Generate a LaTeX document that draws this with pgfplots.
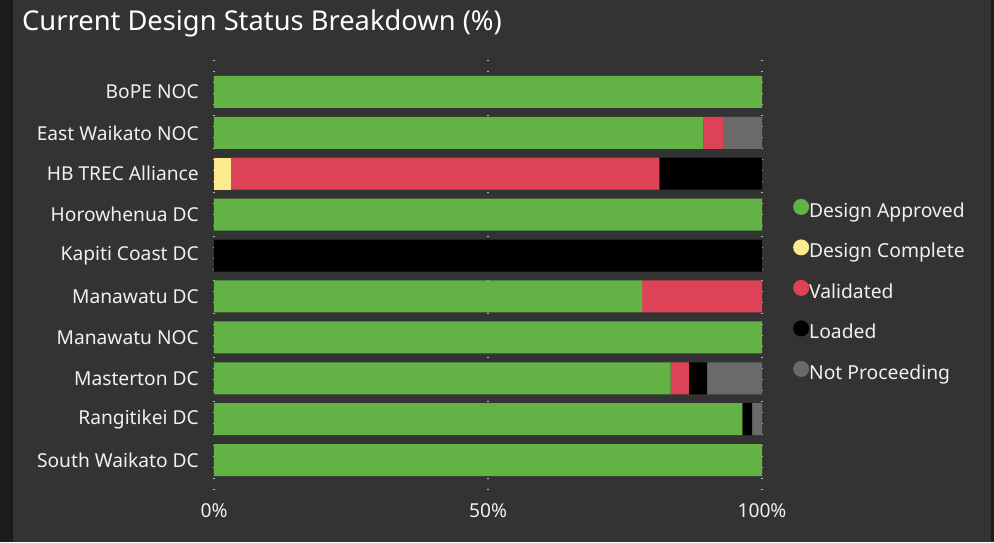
\documentclass[border=0pt]{standalone}
\usepackage{pgfplots}
\pgfplotsset{compat=1.18}
\usepackage{fontspec}
\setmainfont{Noto Sans}

\definecolor{bg}{HTML}{333333}
\definecolor{bgdark}{HTML}{1C1C1C}
\definecolor{approved}{HTML}{62B246}
\definecolor{complete}{HTML}{FCEB8E}
\definecolor{validated}{HTML}{DE4257}
\definecolor{loaded}{HTML}{000000}
\definecolor{notproc}{HTML}{6A6A6A}
\definecolor{txt}{HTML}{F0F0F0}

\begin{document}
\begin{tikzpicture}
\useasboundingbox (0,0) rectangle (994pt,542pt);
\fill[bgdark] (0,0) rectangle (994pt,542pt);
\fill[bg] (13pt,0) rectangle (991pt,542pt);
\node[anchor=base west, text=white, inner sep=0pt, font=\fontsize{27.3}{31}\selectfont]
  at (22pt,511pt) {Current Design Status Breakdown (\%)};

\begin{axis}[
    at={(214pt,50pt)}, anchor=south west,
    scale only axis, width=548pt, height=432pt,
    xbar stacked, bar width=32pt,
    xmin=0, xmax=100,
    ymin=-0.78, ymax=9.78, y dir=reverse,
    ytick={0,...,9},
    yticklabels={BoPE NOC, East Waikato NOC, HB TREC Alliance, Horowhenua DC,
        Kapiti Coast DC, Manawatu DC, Manawatu NOC, Masterton DC,
        Rangitikei DC, South Waikato DC},
    xtick={0,50,100},
    xticklabels={0\%,50\%,100\%},
    axis line style={draw=none},
    major tick length=0pt,
    xmajorgrids,
    grid style={color=gray!55!white, line width=1.2pt, dash pattern=on 1.3pt off 9.7pt},
    tick label style={text=txt, font=\fontsize{19.2}{22}\selectfont},
    yticklabel style={anchor=east, inner sep=0pt, xshift=-15pt},
    xticklabel style={anchor=north, inner sep=0pt, yshift=-11pt},
    legend image code/.code={\fill[#1] (0pt,6pt) circle (8pt);},
    legend style={at={(1.051,0.465)}, anchor=west, draw=none, fill=none,
        text=txt, font=\fontsize{19.3}{22}\selectfont, row sep=18pt,
        nodes={inner sep=0pt, text height=13pt, text depth=4pt},
        /tikz/every even column/.append style={column sep=3pt}},
    legend cell align=left,
]
% rows: BoPE, East Waikato, HB TREC, Horowhenua, Kapiti, Manawatu DC,
%       Manawatu NOC, Masterton, Rangitikei, South Waikato
\addplot[fill=approved, draw=none] coordinates {
    (100,0) (89.29,1) (0,2) (100,3) (0,4) (78.13,5) (100,6) (83.33,7) (96.4,8) (100,9)};
\addplot[fill=complete, draw=none] coordinates {
    (0,0) (0,1) (3.13,2) (0,3) (0,4) (0,5) (0,6) (0,7) (0,8) (0,9)};
\addplot[fill=validated, draw=none] coordinates {
    (0,0) (3.57,1) (78.12,2) (0,3) (0,4) (21.87,5) (0,6) (3.33,7) (0,8) (0,9)};
\addplot[fill=loaded, draw=none] coordinates {
    (0,0) (0,1) (18.75,2) (0,3) (100,4) (0,5) (0,6) (3.33,7) (1.8,8) (0,9)};
\addplot[fill=notproc, draw=none] coordinates {
    (0,0) (7.14,1) (0,2) (0,3) (0,4) (0,5) (0,6) (10.01,7) (1.8,8) (0,9)};
\legend{Design Approved, Design Complete, Validated, Loaded, Not Proceeding}
\end{axis}
\end{tikzpicture}
\end{document}
